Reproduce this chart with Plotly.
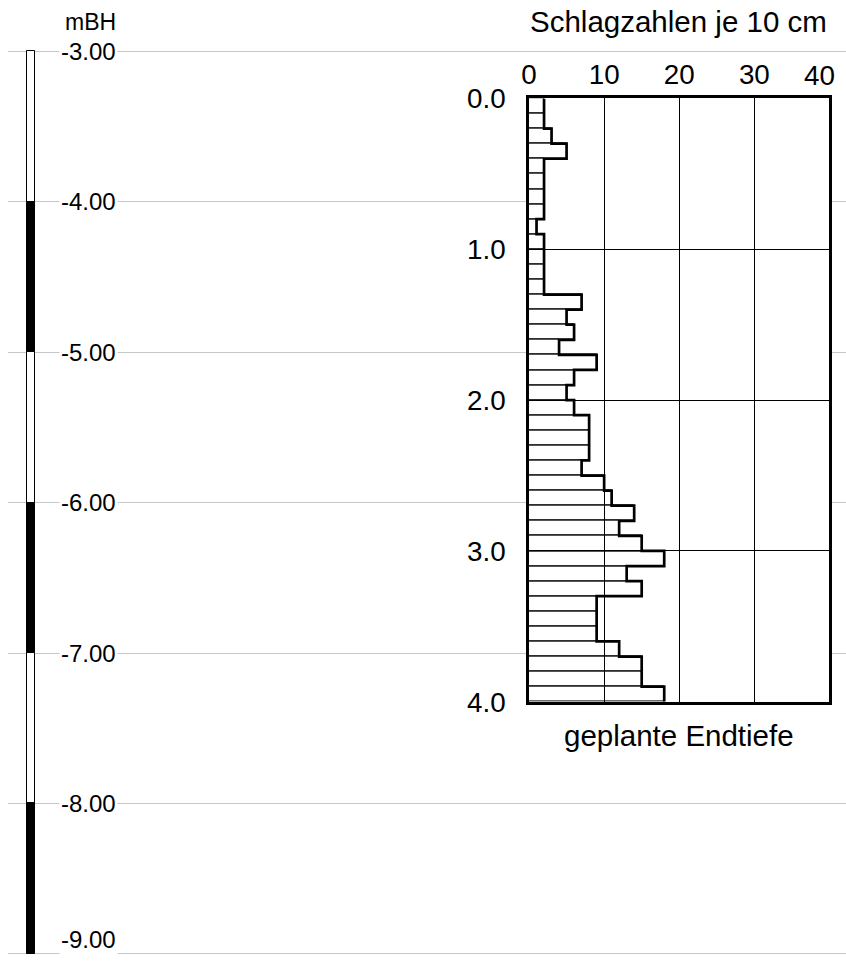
import plotly.graph_objects as go

# ---- data ----
depth_top = [0.0, 0.1, 0.2, 0.3, 0.4, 0.5, 0.6, 0.7, 0.8, 0.9,
             1.0, 1.1, 1.2, 1.3, 1.4, 1.5, 1.6, 1.7, 1.8, 1.9,
             2.0, 2.1, 2.2, 2.3, 2.4, 2.5, 2.6, 2.7, 2.8, 2.9,
             3.0, 3.1, 3.2, 3.3, 3.4, 3.5, 3.6, 3.7, 3.8, 3.9]
blows = [2, 2, 3, 5, 2, 2, 2, 2, 1, 2,
         2, 2, 2, 7, 5, 6, 4, 9, 6, 5,
         6, 8, 8, 8, 7, 10, 11, 14, 12, 15,
         18, 13, 15, 9, 9, 9, 12, 15, 15, 18]
end_depth = 4.0
x_ticks = [0, 10, 20, 30, 40]
x_ticktext = ["0", "10", "20", "30", "40"]
y_ticks = [0, 1, 2, 3, 4]
y_ticktext = ["0.0", "1.0", "2.0", "3.0", "4.0"]

mbh_levels = [-3, -4, -5, -6, -7, -8, -9]
mbh_labels = ["-3.00", "-4.00", "-5.00", "-6.00", "-7.00", "-8.00", "-9.00"]
seg_bottom = [-4, -5, -6, -7, -8, -9]
seg_len = [1, 1, 1, 1, 1, 1]
seg_color = ["white", "black", "white", "black", "white", "black"]

title_text = "Schlagzahlen je 10 cm"
foot_text = "geplante Endtiefe"
unit_text = "mBH"

# ---- figure and placement (target positions given in window pixels) ----
W, H = 846, 971
PX0, PX1 = 0.0, 846.0
PY0, PY1 = 14.0, 957.0

def fx(sx):  # window x -> paper fraction
    return (sx - PX0) / (PX1 - PX0)

def fy(sy):  # window y -> paper fraction
    return 1 - (sy - PY0) / (PY1 - PY0)

FONT = "Liberation Sans, Arial, sans-serif"
F_TICK = 27.8
F_TITLE = 29.5
F_SMALL = 24
LW = 2.7

y_m3, y_m9 = 50.5, 956.5      # window y of -3 and -9 mBH
px_per_m = (y_m9 - y_m3) / 6.0
mbh_max = -3 + (y_m3 - PY0) / px_per_m
mbh_min = -3 - (PY1 - y_m3) / px_per_m - 0.004

fig = go.Figure()

# elevation scale bar
fig.add_trace(go.Bar(
    x=[23.2] * len(seg_bottom), y=seg_len, base=seg_bottom,
    width=8.3, marker=dict(color=seg_color, line=dict(color="black", width=1)),
    xaxis="x", yaxis="y", showlegend=False, hoverinfo="skip"))

# DPH bars (thin outlines)
centers = [d + 0.05 for d in depth_top]
fig.add_trace(go.Bar(
    x=blows, y=centers, orientation="h", width=0.1,
    marker=dict(color="rgba(0,0,0,0)", line=dict(color="black", width=1)),
    xaxis="x2", yaxis="y2", showlegend=False, hoverinfo="skip"))

# thick step outline
fig.add_trace(go.Scatter(
    x=blows + [blows[-1]], y=depth_top + [end_depth], mode="lines",
    line=dict(color="black", width=LW, shape="vh"),
    xaxis="x2", yaxis="y2", showlegend=False, hoverinfo="skip"))

# last x tick label is drawn as an annotation, pulled inside the window
axis_ticktext = x_ticktext[:-1] + [""]

fig.update_layout(
    width=W, height=H, margin=dict(l=0, r=0, t=0, b=0, pad=0), autosize=False,
    paper_bgcolor="white", plot_bgcolor="white",
    font=dict(family=FONT, color="black"),
    bargap=0, showlegend=False,
    xaxis=dict(domain=[0, 1], range=[PX0, PX1], visible=False, fixedrange=True),
    yaxis=dict(domain=[0, 1], range=[mbh_min, mbh_max], showgrid=True,
               tickvals=mbh_levels, gridcolor="#c6c6c6", gridwidth=1,
               showticklabels=False, zeroline=False, showline=False, ticks=""),
    xaxis2=dict(domain=[fx(526), fx(829.3)], range=[0, 40], anchor="y2", side="top",
                tickvals=x_ticks, ticktext=axis_ticktext, showgrid=True, gridcolor="black",
                gridwidth=1, zeroline=False, showline=True, linecolor="black",
                linewidth=LW, mirror=True, ticks="", ticklabelstandoff=0,
                tickfont=dict(size=F_TICK)),
    yaxis2=dict(domain=[fy(703), fy(97.7)], range=[end_depth, 0], anchor="x2",
                tickvals=y_ticks, ticktext=y_ticktext, showgrid=True, gridcolor="black",
                gridwidth=1, zeroline=False, showline=True, linecolor="black",
                linewidth=LW, mirror=True, ticks="", ticklabelstandoff=15,
                tickfont=dict(size=F_TICK)),
)

annotations = []
for lv, lb in zip(mbh_levels, mbh_labels):
    last = lv == mbh_levels[-1]
    annotations.append(dict(x=fx(81), y=(0 if last else lv), xref="paper",
                            yref=("paper" if last else "y"), text=lb, showarrow=False,
                            font=dict(size=F_SMALL), bgcolor="white",
                            xanchor="center", yanchor=("bottom" if last else "middle")))
annotations.append(dict(x=x_ticks[-1], y=fy(75), xref="x2", yref="paper",
                        text=x_ticktext[-1], xshift=-10, showarrow=False,
                        font=dict(size=F_TICK), xanchor="center", yanchor="middle"))
annotations.append(dict(x=fx(83), y=fy(21), xref="paper", yref="paper", text=unit_text,
                        showarrow=False, font=dict(size=F_SMALL - 1),
                        xanchor="center", yanchor="middle"))
annotations.append(dict(x=fx(677), y=fy(21), xref="paper", yref="paper", text=title_text,
                        showarrow=False, font=dict(size=F_TITLE),
                        xanchor="center", yanchor="middle"))
annotations.append(dict(x=fx(677), y=fy(737), xref="paper", yref="paper", text=foot_text,
                        showarrow=False, font=dict(size=F_TITLE),
                        xanchor="center", yanchor="middle"))
fig.update_layout(annotations=annotations)

fig.write_html("out.html")
